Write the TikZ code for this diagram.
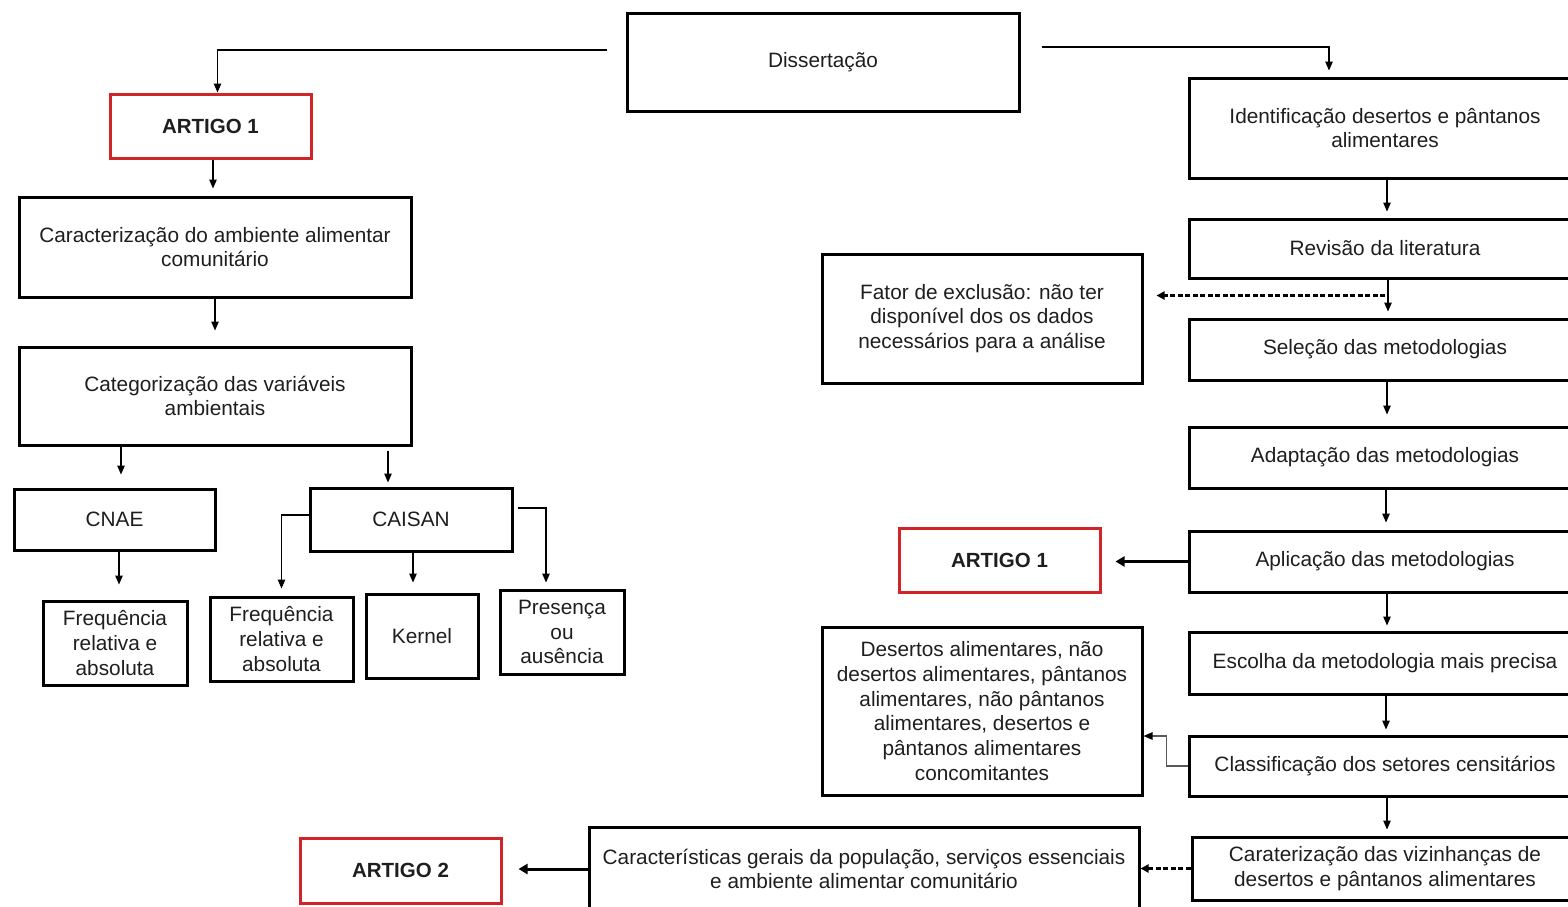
\documentclass[tikz,border=0pt]{standalone}
\usepackage{fontspec}
\setmainfont{Liberation Sans}
\usetikzlibrary{arrows.meta,calc}
\definecolor{boxred}{RGB}{210,35,40}
\definecolor{txt}{RGB}{30,30,30}
\begin{document}
\begin{tikzpicture}[x=1pt,y=-1pt,
  box/.style={draw,line width=3pt,align=center,inner sep=0pt,text=txt,font=\fontsize{20.8}{24.8}\selectfont},
  redbox/.style={box,draw=boxred,font=\fontsize{20.5}{24}\selectfont\bfseries},
  arr/.style={line width=1.2pt,-{Triangle[length=9pt,width=7.5pt]}},
  grayarr/.style={line width=1.2pt,draw=gray!70!black,-{Triangle[length=9pt,width=7.5pt,color=black]}},
  bigarr/.style={line width=3pt,-{Triangle[length=9pt,width=10pt]}},
  dasharr/.style={line width=2.2pt,dash pattern=on 5pt off 2.5pt,-{Triangle[length=8pt,width=8pt]}},
]
\path[use as bounding box] (0,0) rectangle (1568,906);
\clip (0,0) rectangle (1568,906);

% left column
\node[box,minimum width=392pt,minimum height=98pt] (diss) at (823,62) {Dissertação};
\node[redbox,minimum width=201pt,minimum height=64pt] (a1L) at (210.5,126) {ARTIGO 1};
\node[box,minimum width=392pt,minimum height=100pt] (car) at (215,247) {Caracterização do ambiente alimentar\\comunitário};
\node[box,minimum width=392pt,minimum height=98pt] (cat) at (215,396) {Categorização das variáveis\\ambientais};
\node[box,minimum width=201pt,minimum height=61pt] (cnae) at (114.5,519.5) {CNAE};
\node[box,minimum width=202pt,minimum height=63pt] (caisan) at (411,519.5) {CAISAN};
\node[box,minimum width=144pt,minimum height=84pt] (f1) at (115,643) {Frequência\\relativa e\\absoluta};
\node[box,minimum width=143pt,minimum height=84pt] (f2) at (281.5,639) {Frequência\\relativa e\\absoluta};
\node[box,minimum width=112pt,minimum height=84pt] (kern) at (422,636) {Kernel};
\node[box,minimum width=124pt,minimum height=84pt] (pres) at (562,632) {Presença\\ou\\ausência};

% right column
\node[box,minimum width=392pt,minimum height=100pt] (ident) at (1385,128) {Identificação desertos e pântanos\\alimentares};
\node[box,minimum width=392pt,minimum height=59pt] (rev) at (1385,248.5) {Revisão da literatura};
\node[box,minimum width=320pt,minimum height=129pt] (fator) at (982,318.5) {Fator de exclusão: não ter\\disponível dos os dados\\necessários para a análise};
\node[box,minimum width=392pt,minimum height=61pt] (sel) at (1385,349.5) {Seleção das metodologias};
\node[box,minimum width=392pt,minimum height=61pt] (adap) at (1385,457.5) {Adaptação das metodologias};
\node[box,minimum width=392pt,minimum height=61pt] (apl) at (1385,561.5) {Aplicação das metodologias};
\node[redbox,minimum width=201pt,minimum height=64pt] (a1R) at (999.5,560) {ARTIGO 1};
\node[box,minimum width=392pt,minimum height=62pt] (esc) at (1385,663) {Escolha da metodologia mais precisa};
\node[box,minimum width=320pt,minimum height=168pt] (des) at (982,711) {Desertos alimentares, não\\desertos alimentares, pântanos\\alimentares, não pântanos\\alimentares, desertos e\\pântanos alimentares\\concomitantes};
\node[box,minimum width=392pt,minimum height=60pt] (cla) at (1385,766) {Classificação dos setores censitários};
\node[box,minimum width=386pt,minimum height=63pt] (carz) at (1385,868.5) {Caraterização das vizinhanças de\\desertos e pântanos alimentares};
\node[box,minimum width=550pt,minimum height=84pt] (carac) at (864,869) {Características gerais da população, serviços essenciais\\e ambiente alimentar comunitário};
\node[redbox,minimum width=201pt,minimum height=65pt] (a2) at (400.5,870.5) {ARTIGO 2};

% connectors left
\coordinate (dL) at ($(diss.west)+(-19,-12)$);
\coordinate (dR) at ($(diss.east)+(21,-15)$);
\draw[arr] (dL) -| ([xshift=7pt]a1L.north);
\draw[arr] (dR) -| ([xshift=-56pt,yshift=6pt]ident.north);
\draw[arr,shorten >=7pt] ([xshift=2.5pt]a1L.south) -- ([xshift=2.5pt]a1L.south |- car.north);
\draw[arr,shorten >=15pt] (car.south) -- (car.north |- cat.north);
\draw[arr,shorten >=13pt] ([xshift=6.5pt]cnae.north |- cat.south) -- ([xshift=6.5pt]cnae.north);
\draw[arr,shorten >=4pt,shorten <=4pt] ([xshift=-23pt]caisan.north |- cat.south) -- ([xshift=-23pt]caisan.north);
\draw[arr,shorten >=15pt] ([xshift=4pt]f1.north |- cnae.south) -- ([xshift=4pt]f1.north);
\draw[arr,shorten >=7pt] ([yshift=4.5pt]caisan.west) -| (f2.north);
\draw[arr,shorten >=10pt] ([xshift=2pt]caisan.south) -- ([xshift=2pt]caisan.south |- kern.north);
\draw[arr,shorten >=6pt] ([xshift=4pt,yshift=11.5pt]caisan.east) -| ([xshift=-16pt]pres.north);

% connectors right
\draw[arr,shorten >=6pt] ([xshift=2pt]ident.south) -- ([xshift=2pt]ident.south |- rev.north);
\draw[arr,shorten >=6pt] ([xshift=3pt]rev.south) -- ([xshift=3pt]rev.south |- sel.north);
\coordinate (dx) at ([yshift=-16pt]rev.south);
\draw[dasharr,shorten >=13pt] (dx) -- (dx -| fator.east);
\draw[arr,shorten >=11pt] ([xshift=2pt]sel.south) -- ([xshift=2pt]sel.south |- adap.north);
\draw[arr,shorten >=7pt] ([xshift=1pt]adap.south) -- ([xshift=1pt]adap.south |- apl.north);
\draw[bigarr,shorten >=14pt] (apl.west) -- (apl.west -| a1R.east);
\draw[arr,shorten >=5pt] ([xshift=2pt]apl.south) -- ([xshift=2pt]apl.south |- esc.north);
\draw[arr,shorten >=5pt] ([xshift=1pt]esc.south) -- ([xshift=1pt]esc.south |- cla.north);
\draw[grayarr] (cla.west) -| ([xshift=23pt,yshift=-25pt]des.east) -- ([yshift=-25pt]des.east);
\draw[arr,shorten >=6pt] ([xshift=2pt]cla.south) -- ([xshift=2pt]cla.south |- carz.north);
\draw[dasharr] (carz.west) -- (carz.west -| carac.east);
\draw[bigarr,shorten >=16pt] (carac.west) -- (carac.west -| a2.east);
\end{tikzpicture}
\end{document}
